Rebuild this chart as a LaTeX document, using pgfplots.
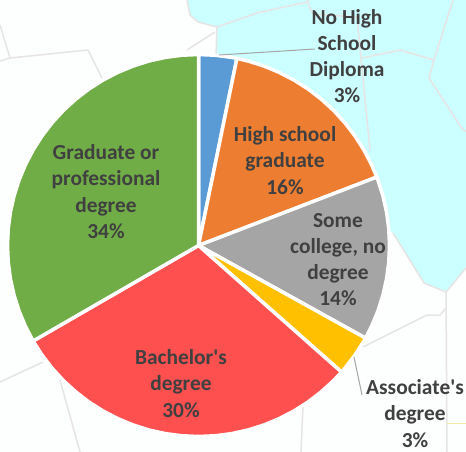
\documentclass[border=0pt]{standalone}
\usepackage{pgfplots}
\usepackage{fontspec}
\setmainfont{Carlito}[Ligatures=TeXOff]
\pgfplotsset{compat=1.18}
\definecolor{bgw}{HTML}{FDFEFE}
\definecolor{bgc}{HTML}{CCFFFF}
\definecolor{mapl}{HTML}{E6E4E4}
\definecolor{lead}{HTML}{A6A6A6}
\definecolor{txt}{HTML}{404040}
\definecolor{cblue}{HTML}{5B9BD5}
\definecolor{corange}{HTML}{ED7D31}
\definecolor{cgray}{HTML}{A5A5A5}
\definecolor{cyellow}{HTML}{FFC000}
\definecolor{cred}{HTML}{FF5050}
\definecolor{cgreen}{HTML}{70AD47}
\tikzset{
  wedge/.style={fill=#1, draw=white, line width=3.5pt, line join=round},
  mapline/.style={mapl, line width=1.5pt, line join=round},
  lab/.style={font=\fontsize{21.4}{26.2}\selectfont\bfseries, text=txt, align=center, inner sep=0pt, anchor=center},
}
\begin{document}
\begin{tikzpicture}
\begin{axis}[
  scale only axis, width=466pt, height=452pt,
  xmin=0, xmax=466, ymin=0, ymax=452, y dir=reverse,
  hide axis, no markers,
]
% background
\addplot[fill=bgw, draw=none] coordinates {(0,0) (466,0) (466,452) (0,452)} --cycle;
\addplot[fill=bgc, draw=none] coordinates {(187,0) (190,15) (198,22) (216,27) (216,100) (393,233) (424,283) (446,292) (466,268) (466,0)} --cycle;
% map lines
\addplot[mapline] coordinates {(187,0) (190,15) (198,22) (217,27) (257,13) (307,2) (309,0)};
\addplot[mapline] coordinates {(217,27) (216,56)};
\addplot[mapline] coordinates {(215,32) (187,50)};
\addplot[mapline] coordinates {(307,2) (313,14) (357,17) (370,150)};
\addplot[mapline] coordinates {(362,58) (400,50) (434,60) (453,0)};
\addplot[mapline] coordinates {(434,60) (429,78) (463,130) (466,131)};
\addplot[mapline] coordinates {(393,233) (424,283) (446,292) (466,268)};
\addplot[mapline] coordinates {(446,292) (447,452)};
\addplot[mapline] coordinates {(363,347) (427,315) (440,315) (446,308)};
\addplot[mapline] coordinates {(303,407) (301,452)};
\addplot[mapline] coordinates {(0,25) (10,58) (88,50) (102,78)};
\addplot[mapline] coordinates {(0,61) (10,58)};
\addplot[mapline] coordinates {(0,382) (43,362)};
\addplot[mapline] coordinates {(60,380) (80,452)};
\addplot[color=yellow!30!mapl, line width=1pt] coordinates {(447,423) (466,423)};
% pie wedges
\addplot[wedge=cblue] coordinates {(198.5,245.5) (198.5,54.5) (215.15,55.23) (231.67,57.4) (236.91,58.4)} --cycle;
\addplot[wedge=corange] coordinates {(198.5,245.5) (236.91,58.4) (247.93,61.01) (263.83,66.02) (279.22,72.4) (294,80.09) (308.05,89.04) (321.27,99.19) (333.56,110.44) (344.81,122.73) (354.96,135.95) (363.91,150) (371.6,164.78) (376.81,177.05)} --cycle;
\addplot[wedge=cgray] coordinates {(198.5,245.5) (376.81,177.05) (377.98,180.17) (382.99,196.07) (386.6,212.33) (388.77,228.85) (389.5,245.5) (388.77,262.15) (386.6,278.67) (382.99,294.93) (377.98,310.83) (371.6,326.22) (365.55,338.1)} --cycle;
\addplot[wedge=cyellow] coordinates {(198.5,245.5) (365.55,338.1) (363.91,341) (354.96,355.05) (344.81,368.27) (341.55,372.06)} --cycle;
\addplot[wedge=cred] coordinates {(198.5,245.5) (341.55,372.06) (333.56,380.56) (321.27,391.81) (308.05,401.96) (294,410.91) (279.22,418.6) (263.83,424.98) (247.93,429.99) (231.67,433.6) (215.15,435.77) (198.5,436.5) (181.85,435.77) (165.33,433.6) (149.07,429.99) (133.17,424.98) (117.78,418.6) (103,410.91) (88.95,401.96) (75.73,391.81) (63.44,380.56) (52.19,368.27) (42.04,355.05) (33.09,341)} --cycle;
\addplot[wedge=cgreen] coordinates {(198.5,245.5) (33.09,341) (25.4,326.22) (19.02,310.83) (14.01,294.93) (10.4,278.67) (8.23,262.15) (7.5,245.5) (8.23,228.85) (10.4,212.33) (14.01,196.07) (19.02,180.17) (25.4,164.78) (33.09,150) (42.04,135.95) (52.19,122.73) (63.44,110.44) (75.73,99.19) (88.95,89.04) (103,80.09) (117.78,72.4) (133.17,66.02) (149.07,61.01) (165.33,57.4) (181.85,55.23) (198.5,54.5)} --cycle;
% leader lines
\addplot[lead, line width=1pt] coordinates {(219,55) (315,49)};
\addplot[lead, line width=1pt] coordinates {(354,357) (362,395)};
% labels
\node[lab] at (axis cs:347,56) {No High\\School\\Diploma\\3\%};
\node[lab] at (axis cs:285,160.5) {High school\\graduate\\16\%};
\node[lab] at (axis cs:338,259.5) {Some\\college, no\\degree\\14\%};
\node[lab] at (axis cs:415,413.5) {Associate's\\degree\\3\%};
\node[lab] at (axis cs:181,383.5) {Bachelor's\\degree\\30\%};
\node[lab] at (axis cs:106,191.5) {Graduate or\\professional\\degree\\34\%};
\end{axis}
\end{tikzpicture}
\end{document}
